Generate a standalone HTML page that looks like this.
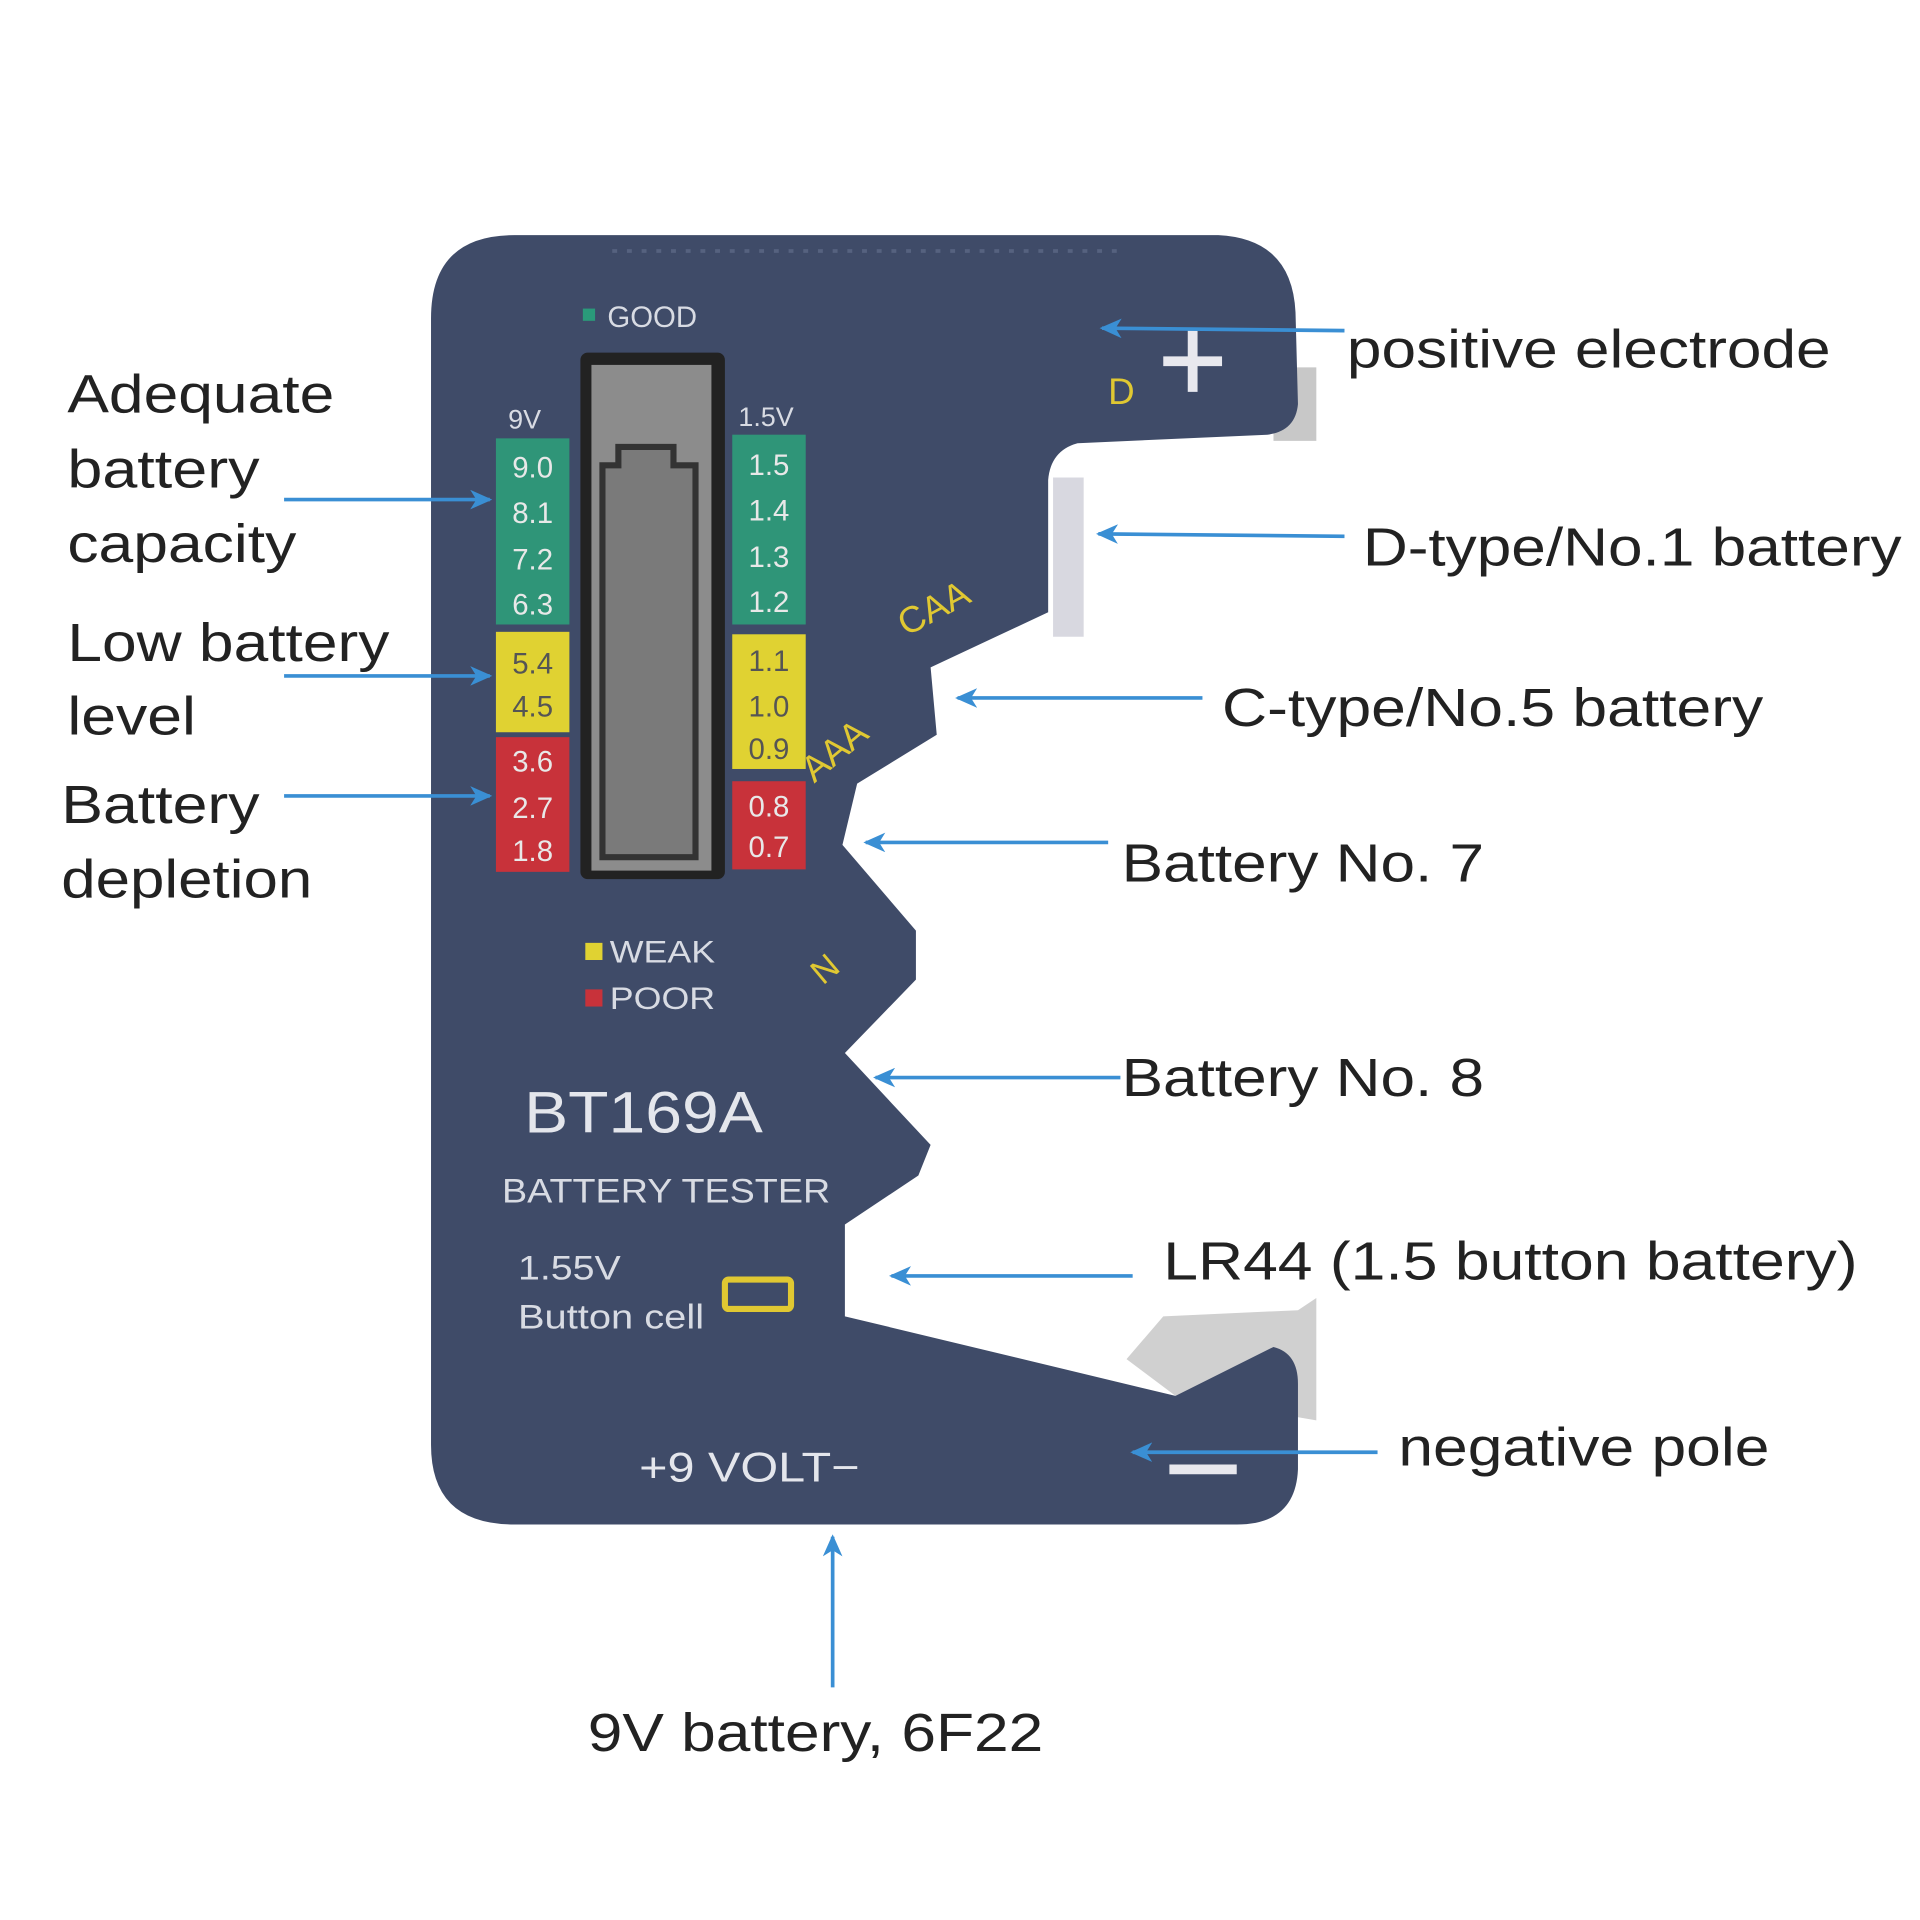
<!DOCTYPE html>
<html><head><meta charset="utf-8"><style>
html,body{margin:0;padding:0;background:#fff;}
svg{display:block}
text{font-family:"Liberation Sans",sans-serif;}
</style></head><body>
<svg width="1920" height="1920" viewBox="0 0 1568 1568" xmlns="http://www.w3.org/2000/svg">
<defs>
<marker id="ah" markerWidth="18" markerHeight="16" refX="16" refY="8" orient="auto" markerUnits="userSpaceOnUse" viewBox="0 0 18 16">
<path d="M0,0 L18,8 L0,16 L5,8 Z" fill="#3a8fd4"/></marker>
</defs>
<!-- metal contacts -->
<path d="M1040 300 L1075 300 L1075 360 L1040 360 Z" fill="#c8c8c8"/>
<path d="M860 390 L885 390 L885 520 L860 520 Z" fill="#d8d8e0"/>
<path d="M920 1110 L950 1075 L1060 1070 L1075 1060 L1075 1160 L960 1140 Z" fill="#d0d0d0"/>
<!-- body -->
<path d="M420 192 L995 192 Q1055 195 1058 255 L1060 330 Q1058 352 1035 355 L880 362 Q858 368 856 392 L856 500 L760 545 L765 600 L700 640 L688 690 L748 760 L748 800 L690 860 L760 935 L750 960 L690 1000 L690 1075 L960 1140 L1040 1100 Q1060 1105 1060 1130 L1060 1200 Q1058 1245 1010 1245 L420 1245 Q352 1245 352 1180 L352 260 Q352 192 420 192 Z" fill="#3f4b68"/>
<g stroke="#56627f" stroke-width="3">
<path d="M500 205 L920 205" stroke-dasharray="4 8"/>
</g>
<!-- GOOD -->
<rect x="476" y="252" width="10" height="10" fill="#2a9a7a"/>
<text x="496" y="267" font-size="24" fill="#d8dbe3">GOOD</text>
<!-- LCD -->
<rect x="474" y="288" width="118" height="430" rx="6" fill="#222"/>
<rect x="483" y="298" width="98" height="413" fill="#8c8c8c"/>
<path d="M492 700 L492 380 L505 380 L505 365 L550 365 L550 380 L568 380 L568 700 Z" fill="#7a7a7a" stroke="#333" stroke-width="5"/>
<!-- 9V scale -->
<text x="415" y="350" font-size="22" fill="#d8dbe3">9V</text>
<rect x="405" y="358" width="60" height="152" fill="#2f9578"/>
<rect x="405" y="516" width="60" height="82" fill="#e0d232"/>
<rect x="405" y="602" width="60" height="110" fill="#c8323a"/>
<g font-size="24" fill="#e8e8e8" text-anchor="middle">
<text x="435" y="390">9.0</text><text x="435" y="427">8.1</text><text x="435" y="465">7.2</text><text x="435" y="502">6.3</text>
<text x="435" y="550" fill="#555">5.4</text><text x="435" y="585" fill="#555">4.5</text>
<text x="435" y="630">3.6</text><text x="435" y="668">2.7</text><text x="435" y="703">1.8</text>
</g>
<!-- 1.5V scale -->
<text x="603" y="348" font-size="22" fill="#d8dbe3">1.5V</text>
<rect x="598" y="355" width="60" height="155" fill="#2f9578"/>
<rect x="598" y="518" width="60" height="110" fill="#e0d232"/>
<rect x="598" y="638" width="60" height="72" fill="#c8323a"/>
<g font-size="24" fill="#e8e8e8" text-anchor="middle">
<text x="628" y="388">1.5</text><text x="628" y="425">1.4</text><text x="628" y="463">1.3</text><text x="628" y="500">1.2</text>
<text x="628" y="548" fill="#555">1.1</text><text x="628" y="585" fill="#555">1.0</text><text x="628" y="620" fill="#555">0.9</text>
<text x="628" y="667">0.8</text><text x="628" y="700">0.7</text>
</g>
<!-- legend -->
<rect x="478" y="770" width="14" height="14" fill="#e0d232"/>
<text x="498" y="786" font-size="26" fill="#d8dbe3" textLength="86" lengthAdjust="spacingAndGlyphs">WEAK</text>
<rect x="478" y="808" width="14" height="14" fill="#c8323a"/>
<text x="498" y="824" font-size="26" fill="#d8dbe3" textLength="86" lengthAdjust="spacingAndGlyphs">POOR</text>
<!-- yellow slot labels -->
<text x="905" y="330" font-size="30" fill="#e0c832">D</text>
<text x="740" y="520" font-size="30" fill="#e0c832" transform="rotate(-28 740 520)">CAA</text>
<text x="665" y="640" font-size="30" fill="#e0c832" transform="rotate(-40 665 640)">AAA</text>
<text x="672" y="805" font-size="28" fill="#e0c832" transform="rotate(-40 672 805)">N</text>
<path d="M950 295 L998 295 M974 270 L974 320" stroke="#e8e8ee" stroke-width="8"/>
<!-- brand -->
<text x="428" y="925" font-size="48" fill="#e4e6ec" textLength="195" lengthAdjust="spacingAndGlyphs">BT169A</text>
<text x="410" y="982" font-size="28" fill="#d8dbe3" textLength="268" lengthAdjust="spacingAndGlyphs">BATTERY TESTER</text>
<text x="423" y="1045" font-size="28" fill="#d8dbe3" textLength="84" lengthAdjust="spacingAndGlyphs">1.55V</text>
<text x="423" y="1085" font-size="28" fill="#d8dbe3" textLength="152" lengthAdjust="spacingAndGlyphs">Button cell</text>
<rect x="592" y="1045" width="54" height="24" rx="3" fill="none" stroke="#e0c832" stroke-width="5"/>
<text x="522" y="1210" font-size="34" fill="#e4e6ec" textLength="180" lengthAdjust="spacingAndGlyphs">+9 VOLT−</text>
<path d="M955 1200 L1010 1200" stroke="#e8e8ee" stroke-width="8"/>
<!-- arrows -->
<g stroke="#3a8fd4" stroke-width="3" fill="none" marker-end="url(#ah)">
<path d="M1098 270 L900 268"/>
<path d="M1098 438 L897 436"/>
<path d="M982 570 L782 570"/>
<path d="M905 688 L707 688"/>
<path d="M915 880 L715 880"/>
<path d="M925 1042 L728 1042"/>
<path d="M1125 1186 L925 1186"/>
<path d="M232 408 L400 408"/>
<path d="M232 552 L400 552"/>
<path d="M232 650 L400 650"/>
<path d="M680 1378 L680 1255"/>
</g>
<!-- labels -->
<g font-size="44" fill="#222" lengthAdjust="spacingAndGlyphs">
<text x="1100" y="300" textLength="395" lengthAdjust="spacingAndGlyphs">positive electrode</text>
<text x="1113" y="462" textLength="440" lengthAdjust="spacingAndGlyphs">D-type/No.1 battery</text>
<text x="998" y="593" textLength="442" lengthAdjust="spacingAndGlyphs">C-type/No.5 battery</text>
<text x="916" y="720" textLength="296" lengthAdjust="spacingAndGlyphs">Battery No. 7</text>
<text x="916" y="895" textLength="296" lengthAdjust="spacingAndGlyphs">Battery No. 8</text>
<text x="950" y="1045" textLength="567" lengthAdjust="spacingAndGlyphs">LR44 (1.5 button battery)</text>
<text x="1142" y="1197" textLength="303" lengthAdjust="spacingAndGlyphs">negative pole</text>
<text x="55" y="337" textLength="218" lengthAdjust="spacingAndGlyphs">Adequate</text>
<text x="55" y="398" textLength="157" lengthAdjust="spacingAndGlyphs">battery</text>
<text x="55" y="459" textLength="187" lengthAdjust="spacingAndGlyphs">capacity</text>
<text x="55" y="540" textLength="263" lengthAdjust="spacingAndGlyphs">Low battery</text>
<text x="55" y="600" textLength="105" lengthAdjust="spacingAndGlyphs">level</text>
<text x="50" y="672" textLength="162" lengthAdjust="spacingAndGlyphs">Battery</text>
<text x="50" y="733" textLength="205" lengthAdjust="spacingAndGlyphs">depletion</text>
<text x="480" y="1430" textLength="372" lengthAdjust="spacingAndGlyphs">9V battery, 6F22</text>
</g>
</svg>
</body></html>
